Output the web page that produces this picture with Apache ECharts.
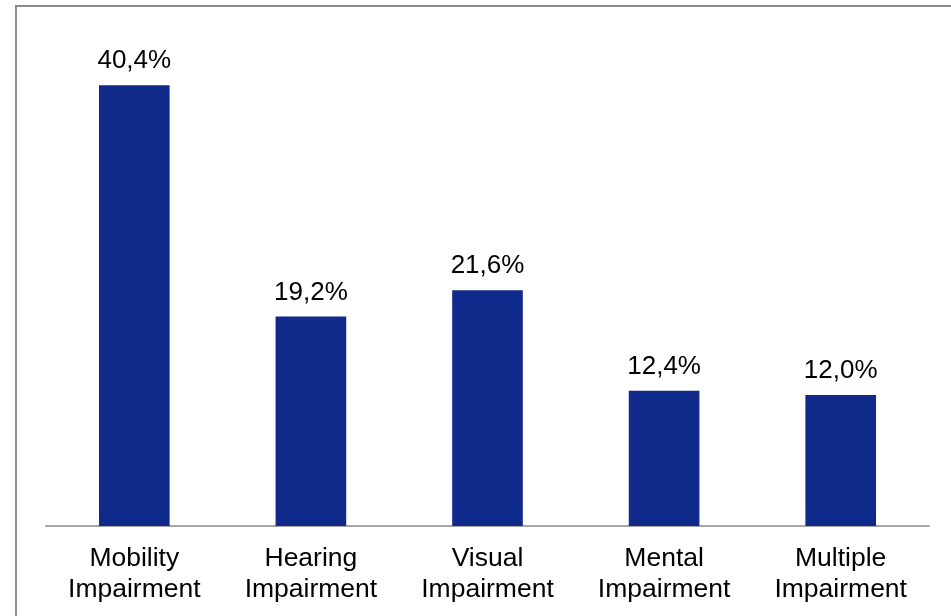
<!DOCTYPE html>
<html>
<head>
<meta charset="utf-8">
<script src="https://cdn.jsdelivr.net/npm/echarts@6/dist/echarts.min.js"></script>
<style>html,body{margin:0;padding:0;background:#fff;}#c{width:951px;height:616px;}</style>
</head>
<body>
<div id="c"></div>
<script>
const categories = ['Mobility\nImpairment', 'Hearing\nImpairment', 'Visual\nImpairment', 'Mental\nImpairment', 'Multiple\nImpairment'];
const values = [40.4, 19.2, 21.6, 12.4, 12.0];

const chart = echarts.init(document.getElementById('c'), null, {renderer: 'canvas'});
chart.setOption({
  animation: false,
  backgroundColor: '#ffffff',
  graphic: [{
    type: 'polyline',
    shape: {points: [[16, 616], [16, 6], [951, 6]]},
    style: {stroke: '#8c8c8c', lineWidth: 2, fill: null},
    silent: true
  }],
  grid: {left: 46, right: 22, top: 35, bottom: 90, containLabel: false},
  xAxis: {
    type: 'category',
    data: categories,
    axisLine: {show: true, lineStyle: {color: '#a6a6a6', width: 2}},
    axisTick: {show: false},
    axisLabel: {
      color: '#000',
      fontFamily: 'Liberation Sans, Arial, sans-serif',
      fontSize: 26.5,
      lineHeight: 31,
      margin: 17,
      interval: 0
    }
  },
  yAxis: {
    type: 'value',
    min: 0,
    max: 45,
    show: false,
    splitLine: {show: false}
  },
  series: [{
    type: 'bar',
    data: values,
    barWidth: '40%',
    itemStyle: {color: '#102a8c'},
    label: {
      show: true,
      position: 'top',
      distance: 11,
      color: '#000',
      fontFamily: 'Liberation Sans, Arial, sans-serif',
      fontSize: 26,
      formatter: p => p.value.toFixed(1).replace('.', ',') + '%'
    }
  }]
});
</script>
</body>
</html>
